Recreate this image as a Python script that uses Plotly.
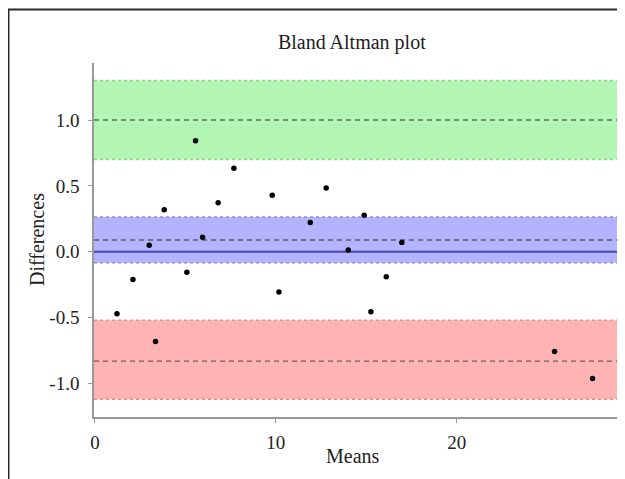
import plotly.graph_objects as go

# Data
means = [1.22, 2.1, 3.0, 3.35, 3.83, 5.08, 5.56, 5.95, 6.81, 7.68, 9.8,
         10.17, 11.9, 12.78, 14.0, 14.88, 15.25, 16.1, 16.96, 25.4, 27.5]
diffs = [-0.47, -0.21, 0.05, -0.68, 0.32, -0.155, 0.843, 0.11, 0.373, 0.634, 0.43,
         -0.305, 0.222, 0.485, 0.013, 0.278, -0.455, -0.19, 0.07, -0.757, -0.962]

mean_diff = 0.09
mean_ci = [-0.083, 0.265]
upper_loa = 1.0
upper_ci = [0.70, 1.30]
lower_loa = -0.83
lower_ci = [-1.12, -0.52]

x_ticks = [0, 10, 20]
y_ticks = [-1.0, -0.5, 0.0, 0.5, 1.0]
y_ticklabels = ["-1.0", "-0.5", "0.0", "0.5", "1.0"]

FONT = "Liberation Serif, Times New Roman, serif"

fig = go.Figure()

bands = [
    (upper_ci, "rgba(179,245,179,1)", "rgba(140,215,140,1)"),
    (mean_ci, "rgba(179,179,255,1)", "rgba(140,140,235,1)"),
    (lower_ci, "rgba(255,179,179,1)", "rgba(235,140,140,1)"),
]
shapes = []
for (lo, hi), fill, edge in bands:
    shapes.append(dict(type="rect", xref="paper", yref="y", x0=0, x1=1, y0=lo, y1=hi,
                       fillcolor=fill, line=dict(width=0), layer="below"))
    for yv in (lo, hi):
        shapes.append(dict(type="line", xref="paper", yref="y", x0=0, x1=1, y0=yv, y1=yv,
                           line=dict(color=edge, width=1.5, dash="dot"), layer="below"))

for yv in (upper_loa, mean_diff, lower_loa):
    shapes.append(dict(type="line", xref="paper", yref="y", x0=0, x1=1, y0=yv, y1=yv,
                       line=dict(color="rgba(50,50,50,0.7)", width=1.4, dash="5px,4px"),
                       layer="below"))
# zero line
shapes.append(dict(type="line", xref="paper", yref="y", x0=0, x1=1, y0=0, y1=0,
                   line=dict(color="rgba(60,60,165,0.9)", width=2), layer="below"))

# outer frame (top and left edges)
shapes.append(dict(type="path", xref="paper", yref="paper",
                   path="M -0.1635,-0.3 L -0.1635,1.1511 L 1.1,1.1511",
                   line=dict(color="#2a2a2a", width=2)))

fig.add_trace(go.Scatter(x=means, y=diffs, mode="markers",
                         marker=dict(color="black", size=5.5), showlegend=False))

fig.update_layout(
    width=617, height=471,
    margin=dict(l=86, r=8, t=55, b=62),
    paper_bgcolor="white", plot_bgcolor="white",
    font=dict(family=FONT, size=19, color="#222"),
    shapes=shapes,
    title=dict(text="Bland Altman plot", x=0.493, xref="paper", xanchor="center",
               y=1 - 34 / 471, yanchor="middle", yref="container",
               font=dict(family=FONT, size=20, color="#222")),
    annotations=[
        dict(text="Means", xref="paper", yref="paper", x=0.496, y=(417 - 456) / 354,
             xanchor="center", yanchor="middle", showarrow=False,
             font=dict(family=FONT, size=20, color="#222")),
        dict(text="Differences", xref="paper", yref="paper", x=(37 - 94) / 523, y=0.5,
             xanchor="center", yanchor="middle", textangle=-90, showarrow=False,
             font=dict(family=FONT, size=20, color="#222")),
    ],
)
fig.update_xaxes(range=[-0.05, 28.85], tickvals=x_ticks, showgrid=False, zeroline=False,
                 showline=True, linecolor="#999", linewidth=1.5,
                 ticks="outside", ticklen=4, tickcolor="#999", ticklabelstandoff=3)
fig.update_yaxes(range=[-1.254, 1.433], tickvals=y_ticks, ticktext=y_ticklabels,
                 showgrid=False, zeroline=False,
                 showline=True, linecolor="#999", linewidth=1.5,
                 ticks="outside", ticklen=4, tickcolor="#999", ticklabelstandoff=5)

fig.write_html("out.html")
